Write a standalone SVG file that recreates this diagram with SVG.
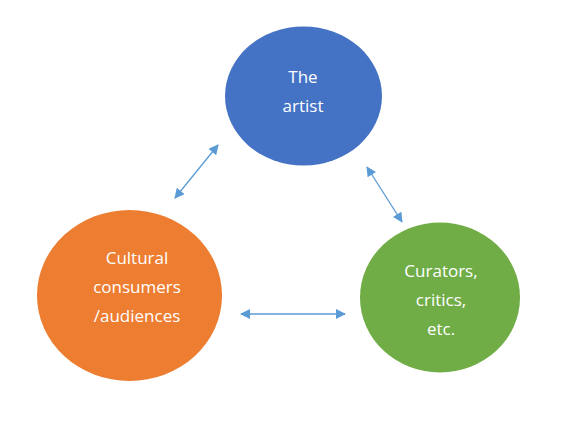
<svg xmlns="http://www.w3.org/2000/svg" width="581" height="424" viewBox="0 0 581 424">
<style>
.lbl{font-family:"Open Sans","Liberation Sans",sans-serif;font-size:17px;fill:#fff;text-anchor:middle}
.con{stroke:#5B9BD5;stroke-width:1.3;fill:none;marker-start:url(#ah);marker-end:url(#ah)}
</style>
<defs>
<marker id="ah" viewBox="0 0 10 10" refX="9" refY="5" markerWidth="12" markerHeight="10" markerUnits="userSpaceOnUse" orient="auto-start-reverse">
<path d="M0,0 L10,5 L0,10 z" fill="#5B9BD5"/>
</marker>
</defs>
<rect width="581" height="424" fill="#fff"/>
<g id="artist">
<ellipse cx="303.5" cy="96" rx="78.5" ry="69.5" fill="#4472C4"/>
<text class="lbl" x="303" y="83">The</text>
<text class="lbl" x="303" y="112">artist</text>
</g>
<g id="consumers">
<ellipse cx="129.5" cy="295.5" rx="92.5" ry="85.5" fill="#ED7D31"/>
<text class="lbl" x="137" y="264">Cultural</text>
<text class="lbl" x="137" y="293">consumers</text>
<text class="lbl" x="137" y="322">/audiences</text>
</g>
<g id="curators">
<ellipse cx="440" cy="297.5" rx="80" ry="75" fill="#70AD47"/>
<text class="lbl" x="441" y="277">Curators,</text>
<text class="lbl" x="441" y="306">critics,</text>
<text class="lbl" x="441" y="335">etc.</text>
</g>
<g id="connectors">
<line class="con" x1="175" y1="198" x2="218" y2="145"/>
<line class="con" x1="367" y1="167" x2="402" y2="222"/>
<line class="con" x1="241" y1="314" x2="345" y2="314"/>
</g>
</svg>
